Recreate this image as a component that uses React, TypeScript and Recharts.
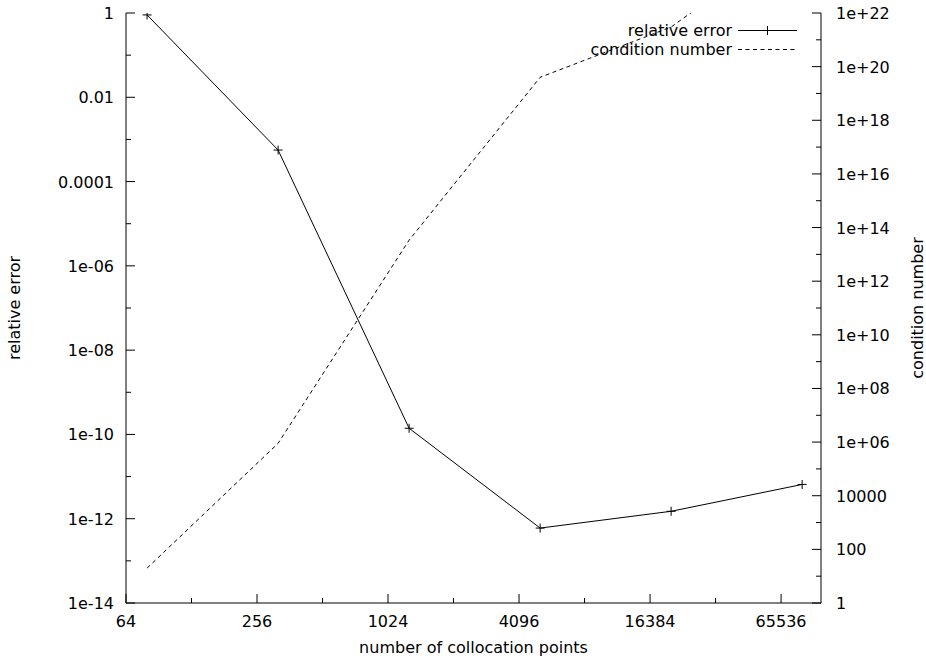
import React from 'react';
import { LineChart, Line, XAxis, YAxis, Legend, Label } from 'recharts';

// ---- data ----
const nPoints = [80, 320, 1280, 5120, 20480, 81920];
const relativeError = [0.9, 5.6e-4, 1.4e-10, 6e-13, 1.5e-12, 6.5e-12];
const conditionNumber = [20, 9e5, 3.4e13, 4e19, 3e21, 1e25];
const seriesNames = ['relative error', 'condition number'];

// ---- ticks ----
const xMajorTicks = [64, 256, 1024, 4096, 16384, 65536];
const xMinorTicks = [128, 512, 2048, 8192, 32768];
const errMajorTicks = [1, 1e-2, 1e-4, 1e-6, 1e-8, 1e-10, 1e-12, 1e-14];
const errTickLabels = ['1', '0.01', '0.0001', '1e-06', '1e-08', '1e-10', '1e-12', '1e-14'];
const errMinorTicks = [1e-1, 1e-3, 1e-5, 1e-7, 1e-9, 1e-11, 1e-13];
const condMajorTicks = [1, 1e2, 1e4, 1e6, 1e8, 1e10, 1e12, 1e14, 1e16, 1e18, 1e20, 1e22];
const condTickLabels = ['1', '100', '10000', '1e+06', '1e+08', '1e+10', '1e+12', '1e+14', '1e+16', '1e+18', '1e+20', '1e+22'];
const condMinorTicks = [10, 1e3, 1e5, 1e7, 1e9, 1e11, 1e13, 1e15, 1e17, 1e19, 1e21];

const data = nPoints.map((n, i) => ({ n, err: relativeError[i], cond: conditionNumber[i] }));

const FONT = '"DejaVu Sans", "Liberation Sans", Arial, sans-serif';
const FS = 16;
const MAJOR = 9;
const MINOR = 5;

const findIdx = (v: number, arr: number[]) => arr.findIndex((t) => Math.abs(Math.log(v / t)) < 1e-6);

const BottomTick = (props: any) => {
  const { x, y, payload } = props;
  const i = findIdx(payload.value, xMajorTicks);
  const len = i >= 0 ? MAJOR : MINOR;
  return (
    <g>
      <line x1={x} x2={x} y1={y} y2={y - len} stroke="#000" strokeWidth={1} />
      {i >= 0 && (
        <text x={x} y={y + 24} textAnchor="middle" fontSize={FS} fontFamily={FONT} fill="#000">
          {String(xMajorTicks[i])}
        </text>
      )}
    </g>
  );
};

const TopTick = (props: any) => {
  const { x, y, payload } = props;
  const i = findIdx(payload.value, xMajorTicks);
  const len = i >= 0 ? MAJOR : MINOR;
  return <line x1={x} x2={x} y1={y} y2={y + len} stroke="#000" strokeWidth={1} />;
};

const LeftTick = (props: any) => {
  const { x, y, payload } = props;
  const i = findIdx(payload.value, errMajorTicks);
  const len = i >= 0 ? MAJOR : MINOR;
  return (
    <g>
      <line x1={x} x2={x + len} y1={y} y2={y} stroke="#000" strokeWidth={1} />
      {i >= 0 && (
        <text x={x - 12} y={y + 6} textAnchor="end" fontSize={FS} fontFamily={FONT} fill="#000">
          {errTickLabels[i]}
        </text>
      )}
    </g>
  );
};

const RightTick = (props: any) => {
  const { x, y, payload } = props;
  const i = findIdx(payload.value, condMajorTicks);
  const len = i >= 0 ? MAJOR : MINOR;
  return (
    <g>
      <line x1={x} x2={x - len} y1={y} y2={y} stroke="#000" strokeWidth={1} />
      {i >= 0 && (
        <text x={x + 15} y={y + 6} textAnchor="start" fontSize={FS} fontFamily={FONT} fill="#000">
          {condTickLabels[i]}
        </text>
      )}
    </g>
  );
};

const PlusDot = (props: any) => {
  const { cx, cy, index } = props;
  if (cx == null || cy == null) return <g key={`d${index}`} />;
  return (
    <path
      key={`d${index}`}
      d={`M${cx - 4.5},${cy}h9M${cx},${cy - 4.5}v9`}
      stroke="#000"
      strokeWidth={1}
      fill="none"
    />
  );
};

const LegendContent = () => {
  const textRight = 732;
  const sx1 = 738;
  const sx2 = 797;
  const rows = [30.5, 49.5];
  return (
    <svg
      width={926}
      height={661}
      style={{ position: 'absolute', left: 0, top: 0, overflow: 'visible', pointerEvents: 'none' }}
    >
      {seriesNames.map((name, i) => (
        <g key={name}>
          <text x={textRight} y={rows[i] + 5.5} textAnchor="end" fontSize={FS} fontFamily={FONT} fill="#000">
            {name}
          </text>
          <line
            x1={sx1}
            x2={sx2}
            y1={rows[i]}
            y2={rows[i]}
            stroke="#000"
            strokeWidth={1}
            strokeDasharray={i === 1 ? '4 3.5' : undefined}
          />
          {i === 0 && (
            <path
              d={`M${(sx1 + sx2) / 2 - 4.5},${rows[i]}h9M${(sx1 + sx2) / 2},${rows[i] - 4.5}v9`}
              stroke="#000"
              strokeWidth={1}
            />
          )}
        </g>
      ))}
    </svg>
  );
};

const LeftTitle = (props: any) => {
  const vb = props.viewBox;
  const cx = vb.x + 15;
  const cy = vb.y + vb.height / 2;
  return (
    <g transform={`translate(${cx},${cy}) rotate(-90)`}>
      <text x={0} y={5} textAnchor="middle" fontSize={FS} fontFamily={FONT} fill="#000">
        relative error
      </text>
    </g>
  );
};

const RightTitle = (props: any) => {
  const vb = props.viewBox;
  const cx = vb.x + 97;
  const cy = vb.y + vb.height / 2;
  return (
    <g transform={`translate(${cx},${cy}) rotate(-90)`}>
      <text x={0} y={5} textAnchor="middle" fontSize={FS} fontFamily={FONT} fill="#000">
        condition number
      </text>
    </g>
  );
};

const BottomTitle = (props: any) => {
  const vb = props.viewBox;
  return (
    <text x={vb.x + vb.width / 2} y={vb.y + 50} textAnchor="middle" fontSize={FS} fontFamily={FONT} fill="#000">
      number of collocation points
    </text>
  );
};

export default function App() {
  return (
    <div style={{ position: 'absolute', left: 0, top: 0, width: 926, height: 661, background: '#fff' }}>
      <LineChart width={926} height={661} data={data} margin={{ top: 13, right: 0, bottom: 0, left: 0 }}>
        <XAxis
          xAxisId="x"
          dataKey="n"
          type="number"
          scale="log"
          domain={[64, 100000]}
          allowDataOverflow
          ticks={[...xMajorTicks, ...xMinorTicks]}
          interval={0}
          tickSize={0}
          tickMargin={0}
          tickLine={false}
          tick={<BottomTick />}
          height={58}
          axisLine={{ stroke: '#000', strokeWidth: 1 }}
        >
          <Label content={<BottomTitle />} />
        </XAxis>
        <XAxis
          xAxisId="xt"
          orientation="top"
          type="number"
          scale="log"
          domain={[64, 100000]}
          allowDataOverflow
          ticks={[...xMajorTicks, ...xMinorTicks]}
          interval={0}
          tickSize={0}
          tickMargin={0}
          tickLine={false}
          tick={<TopTick />}
          height={0}
          axisLine={{ stroke: '#000', strokeWidth: 1 }}
        />
        <YAxis
          yAxisId="l"
          orientation="left"
          type="number"
          scale="log"
          domain={[1e-14, 1]}
          allowDataOverflow
          ticks={[...errMajorTicks, ...errMinorTicks]}
          interval={0}
          tickSize={0}
          tickMargin={0}
          tickLine={false}
          tick={<LeftTick />}
          width={126}
          axisLine={{ stroke: '#000', strokeWidth: 1 }}
        >
          <Label content={<LeftTitle />} />
        </YAxis>
        <YAxis
          yAxisId="r"
          orientation="right"
          type="number"
          scale="log"
          domain={[1, 1e22]}
          allowDataOverflow
          ticks={[...condMajorTicks, ...condMinorTicks]}
          interval={0}
          tickSize={0}
          tickMargin={0}
          tickLine={false}
          tick={<RightTick />}
          width={105}
          axisLine={{ stroke: '#000', strokeWidth: 1 }}
        >
          <Label content={<RightTitle />} />
        </YAxis>
        <Legend content={<LegendContent />} wrapperStyle={{ left: 0, top: 0, width: 0, height: 0, overflow: 'visible' }} />
        <Line
          name={seriesNames[0]}
          xAxisId="x"
          yAxisId="l"
          dataKey="err"
          stroke="#000"
          strokeWidth={1}
          dot={<PlusDot />}
          activeDot={false}
          isAnimationActive={false}
        />
        <Line
          name={seriesNames[1]}
          xAxisId="x"
          yAxisId="r"
          dataKey="cond"
          stroke="#000"
          strokeWidth={1}
          strokeDasharray="4 3.5"
          dot={false}
          activeDot={false}
          isAnimationActive={false}
        />
      </LineChart>
    </div>
  );
}
